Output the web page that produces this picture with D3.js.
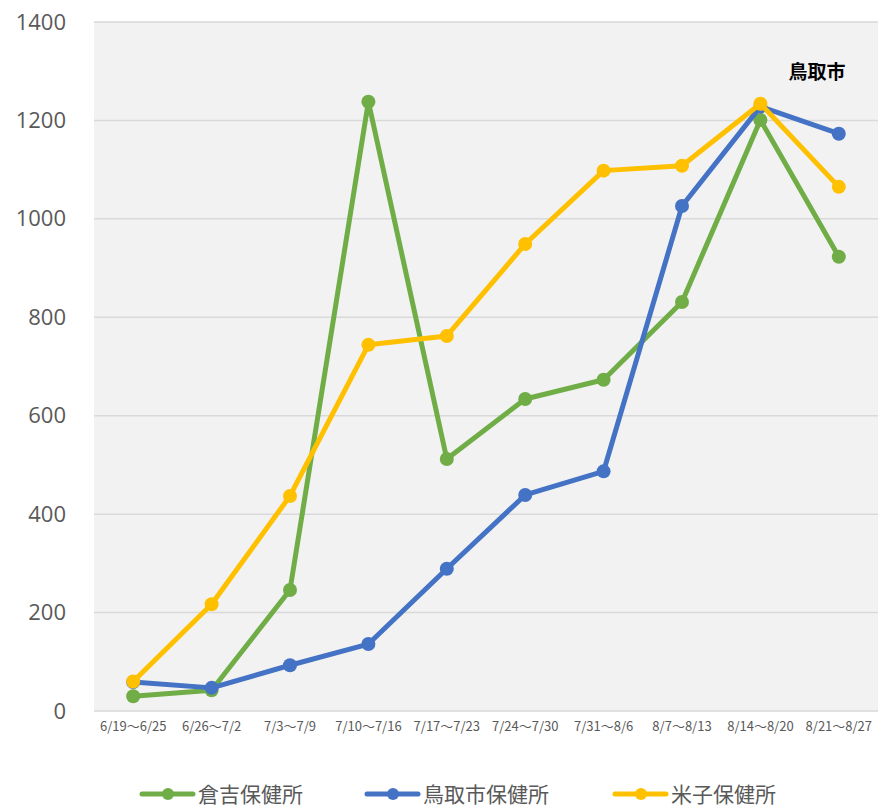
<!DOCTYPE html>
<html><head><meta charset="utf-8">
<script src="https://cdn.jsdelivr.net/npm/d3@7"></script>
<style>body{margin:0;background:#fff;}svg{display:block;}</style>
</head><body>
<script>
const categories = ["6/19～6/25","6/26～7/2","7/3～7/9","7/10～7/16","7/17～7/23","7/24～7/30","7/31～8/6","8/7～8/13","8/14～8/20","8/21～8/27"];
const kurayoshi = [30, 42, 246, 1238, 512, 634, 673, 831, 1201, 923];
const tottori = [59, 47, 93, 136, 289, 439, 487, 1026, 1228, 1173];
const yonago = [60, 217, 437, 744, 762, 949, 1098, 1108, 1234, 1065];
const seriesNames = ["倉吉保健所","鳥取市保健所","米子保健所"];
const seriesColors = ["#70ad47","#4472c4","#ffc000"];
const yTicks = [0,200,400,600,800,1000,1200,1400];
const annotation = "鳥取市";

(function(){
const W = 885, H = 808;
const mL = 94, mR = 878, mT = 22, mB = 711;
const svg = d3.select("body").append("svg").attr("width", W).attr("height", H);

svg.append("rect").attr("x", mL).attr("y", mT).attr("width", mR-mL).attr("height", mB-mT).attr("fill", "#f2f2f2");

const x = d3.scaleBand().domain(categories).range([mL, mR]);
const y = d3.scaleLinear().domain([0, 1400]).range([mB, mT]);

svg.append("g").selectAll("line").data(yTicks).join("line")
  .attr("x1", mL).attr("x2", mR)
  .attr("y1", d => y(d)).attr("y2", d => y(d))
  .attr("stroke", "#d9d9d9").attr("stroke-width", 1.5);

const yAxis = svg.append("g").attr("transform", `translate(${mL},0)`)
  .call(d3.axisLeft(y).tickValues(yTicks).tickSize(0).tickPadding(28).tickFormat(d3.format("d")));
yAxis.select(".domain").remove();
yAxis.selectAll("text").attr("font-family", "'Open Sans', 'Noto Sans', sans-serif").attr("font-size", 22).attr("fill", "#595959");

const xAxis = svg.append("g").attr("transform", `translate(0,${mB})`)
  .call(d3.axisBottom(x).tickSize(0).tickPadding(11));
xAxis.select(".domain").remove();
xAxis.selectAll("text").attr("font-family", "'Noto Sans CJK JP', sans-serif").attr("font-size", 13).attr("fill", "#595959");

const allSeries = [kurayoshi, tottori, yonago];
const line = d3.line().x((d,i) => x(categories[i]) + x.bandwidth()/2).y(d => y(d));

allSeries.forEach((s, k) => {
  const g = svg.append("g");
  g.append("path").datum(s).attr("d", line).attr("fill", "none")
    .attr("stroke", seriesColors[k]).attr("stroke-width", 5).attr("stroke-linejoin", "round");
  g.selectAll("circle").data(s).join("circle")
    .attr("cx", (d,i) => x(categories[i]) + x.bandwidth()/2)
    .attr("cy", d => y(d)).attr("r", 7).attr("fill", seriesColors[k]);
});

svg.append("text").attr("x", 817).attr("y", 79)
  .attr("text-anchor", "middle").attr("font-family", "'Noto Sans CJK JP', sans-serif")
  .attr("font-weight", "bold").attr("font-size", 19).attr("fill", "#000").text(annotation);

const legendX = [140, 365, 613];
seriesNames.forEach((n, k) => {
  const g = svg.append("g").attr("transform", `translate(${legendX[k]},794)`);
  g.append("line").attr("x1", 2).attr("x2", 53).attr("y1", 0).attr("y2", 0)
    .attr("stroke", seriesColors[k]).attr("stroke-width", 5).attr("stroke-linecap", "round");
  g.append("circle").attr("cx", 28).attr("cy", 0).attr("r", 6).attr("fill", seriesColors[k]);
  g.append("text").attr("x", 58).attr("y", 0).attr("dy", "0.36em")
    .attr("font-family", "'Noto Sans CJK JP', sans-serif").attr("font-size", 21).attr("fill", "#595959").text(n);
});
})();
</script>
</body></html>
